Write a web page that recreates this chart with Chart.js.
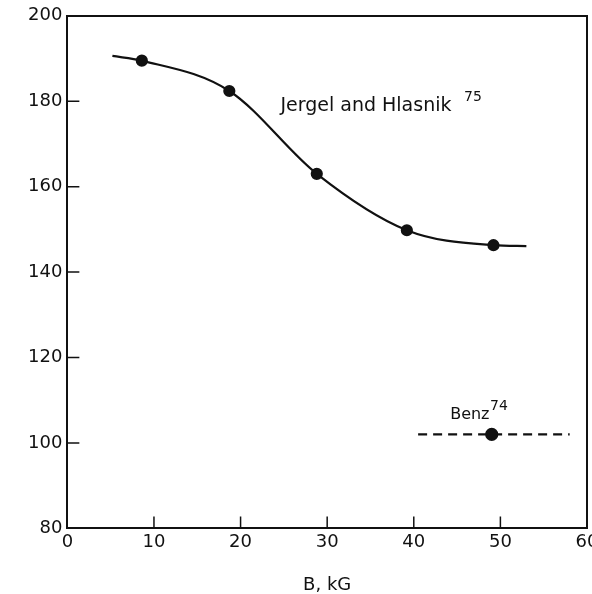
<!DOCTYPE html>
<html>
<head>
<meta charset="utf-8">
<script src="https://cdn.jsdelivr.net/npm/chart.js@4/dist/chart.umd.min.js"></script>
<style>
  html, body { margin: 0; padding: 0; background: #fff; }
  #wrap { width: 592px; height: 594px; }
</style>
</head>
<body>
<div id="wrap"><canvas id="chart"></canvas></div>
<script>
// Jergel and Hlasnik curve (first and last entries are the curve ends, no marker)
var jergelB     = [5.2, 8.6, 18.7, 28.8, 39.2, 49.2, 53.0]
var jergelVal   = [190.6, 189.5, 182.4, 163.0, 149.8, 146.3, 146.1]
var jergelMark  = [false, true, true, true, true, true, false]

// Benz dashed line and point
var benzB       = [40.5, 49.0, 58.0]
var benzVal     = [102.0, 102.0, 102.0]
var benzMark    = [false, true, false]

var xTicks = [0, 10, 20, 30, 40, 50, 60]
var yTicks = [80, 100, 120, 140, 160, 180, 200]

var fontFamily = '"DejaVu Sans", sans-serif'

function toPoints(xs, ys) {
    return xs.map(function (x, i) { return { x: x, y: ys[i] } })
}

// Draw short tick marks pointing into the plot, and the curve labels
var extras = {
    id: 'extras',
    afterDatasetsDraw: function (chart) {
        var ctx = chart.ctx
        var xs = chart.scales.x
        var ys = chart.scales.y
        var area = chart.chartArea

        ctx.save()
        ctx.strokeStyle = '#111'
        ctx.lineWidth = 1.5
        ctx.beginPath()
        xTicks.slice(1, -1).forEach(function (v) {
            var px = xs.getPixelForValue(v)
            ctx.moveTo(px, area.bottom)
            ctx.lineTo(px, area.bottom - 12)
        })
        yTicks.slice(1, -1).forEach(function (v) {
            var py = ys.getPixelForValue(v)
            ctx.moveTo(area.left, py)
            ctx.lineTo(area.left + 12, py)
        })
        ctx.stroke()

        // Labels
        ctx.fillStyle = '#111'
        ctx.textBaseline = 'middle'
        ctx.textAlign = 'left'
        ctx.font = '19px ' + fontFamily
        ctx.fillText('Jergel and Hlasnik', xs.getPixelForValue(24.6), ys.getPixelForValue(178.8))
        ctx.font = '16px ' + fontFamily
        ctx.fillText('Benz', xs.getPixelForValue(44.2), ys.getPixelForValue(106.7))
        ctx.font = '14px ' + fontFamily
        ctx.fillText('75', xs.getPixelForValue(45.8), ys.getPixelForValue(180.9))
        ctx.fillText('74', xs.getPixelForValue(48.8), ys.getPixelForValue(108.6))
        ctx.restore()
    }
}

var ctx = document.getElementById('chart')

new Chart(ctx, {
    type: 'scatter',
    data: {
        datasets: [
            {
                label: 'Jergel and Hlasnik',
                data: toPoints(jergelB, jergelVal),
                showLine: true,
                borderColor: '#111',
                borderWidth: 2.2,
                cubicInterpolationMode: 'monotone',
                pointRadius: jergelMark.map(function (m) { return m ? 5 : 0 }),
                pointBackgroundColor: '#111',
                pointBorderColor: '#111'
            },
            {
                label: 'Benz',
                data: toPoints(benzB, benzVal),
                showLine: true,
                borderColor: '#111',
                borderWidth: 2.2,
                borderDash: [9, 6],
                pointRadius: benzMark.map(function (m) { return m ? 5.5 : 0 }),
                pointBackgroundColor: '#111',
                pointBorderColor: '#111'
            }
        ]
    },
    options: {
        responsive: true,
        maintainAspectRatio: false,
        animation: false,
        layout: {
            padding: { left: 23, right: 5, top: 15, bottom: 0 }
        },
        plugins: {
            legend: { display: false },
            tooltip: { enabled: false }
        },
        scales: {
            x: {
                type: 'linear',
                min: 0,
                max: 60,
                afterBuildTicks: function (scale) {
                    scale.ticks = xTicks.map(function (v) { return { value: v } })
                },
                afterFit: function (scale) {
                    scale.paddingRight = 0
                    scale.paddingLeft = 0
                },
                grid: { display: false, drawTicks: false },
                border: { display: true, color: '#111', width: 2 },
                ticks: {
                    padding: 3,
                    color: '#111',
                    font: { family: 'DejaVu Sans', size: 18 },
                    maxRotation: 0
                },
                title: {
                    display: true,
                    text: 'B, kG',
                    color: '#111',
                    font: { family: 'DejaVu Sans', size: 18, lineHeight: 1 },
                    padding: { top: 20, bottom: 0 }
                }
            },
            y: {
                type: 'linear',
                min: 80,
                max: 200,
                afterBuildTicks: function (scale) {
                    scale.ticks = yTicks.map(function (v) { return { value: v } })
                },
                grid: { display: false, drawTicks: false },
                border: { display: true, color: '#111', width: 2 },
                ticks: {
                    padding: 5,
                    color: '#111',
                    font: { family: 'DejaVu Sans', size: 18 }
                }
            },
            x2: {
                type: 'linear',
                position: 'top',
                display: true,
                min: 0,
                max: 60,
                grid: { display: false, drawTicks: false },
                border: { display: true, color: '#111', width: 2 },
                ticks: { display: false }
            },
            y2: {
                type: 'linear',
                position: 'right',
                display: true,
                min: 80,
                max: 200,
                grid: { display: false, drawTicks: false },
                border: { display: true, color: '#111', width: 2 },
                ticks: { display: false }
            }
        }
    },
    plugins: [extras]
})
</script>
</body>
</html>
